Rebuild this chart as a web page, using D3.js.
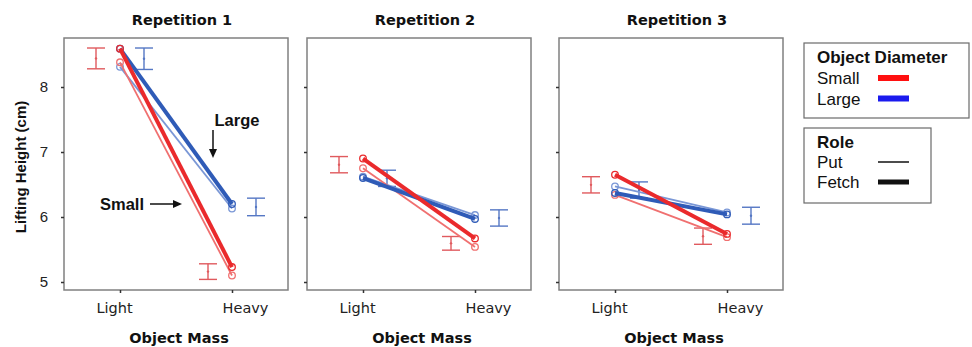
<!DOCTYPE html>
<html>
<head>
<meta charset="utf-8">
<script src="https://cdnjs.cloudflare.com/ajax/libs/d3/7.8.5/d3.min.js"></script>
<style>
  html, body { margin: 0; padding: 0; background: #fff; }
  svg { display: block; }
</style>
</head>
<body>
<svg id="chart" width="972" height="347"></svg>
<script>
// ---------------- DATA ----------------
const panels = ["Repetition 1", "Repetition 2", "Repetition 3"];
const masses = ["Light", "Heavy"];
const yTicks = [5, 6, 7, 8];
const sizes = ["Small", "Large"];
const roles = ["Put", "Fetch"];

// Line values [Light, Heavy] per repetition
const smallFetch = [[8.59, 5.23], [6.90, 5.67], [6.65, 5.74]];
const smallPut   = [[8.38, 5.10], [6.75, 5.54], [6.34, 5.69]];
const largeFetch = [[8.59, 6.20], [6.60, 5.97], [6.37, 6.04]];
const largePut   = [[8.31, 6.13], [6.62, 6.03], [6.47, 6.07]];

// Error bars [low, high] per repetition, for Light and Heavy
const smallLightCI = [[8.28, 8.60], [6.68, 6.93], [6.37, 6.62]];
const largeLightCI = [[8.27, 8.60], [6.47, 6.72], [6.29, 6.54]];
const smallHeavyCI = [[5.04, 5.28], [5.49, 5.70], [5.58, 5.83]];
const largeHeavyCI = [[6.02, 6.29], [5.86, 6.11], [5.89, 6.15]];

// ---------------- STYLE ----------------
const W = 972, H = 347;
const panelX = [64, 307, 559];
const panelW = 224;
const plotTop = 38, plotBottom = 290;
const col = {
  Small: { thick: "#ea2a2c", thin: "#f07070", ci: "#e05a5e", legend: "#ff1010" },
  Large: { thick: "#2f5bb7", thin: "#7a97d6", ci: "#5577c4", legend: "#1a1aee" }
};
const series = [
  { size: "Large", role: "Put",   vals: largePut },
  { size: "Small", role: "Put",   vals: smallPut },
  { size: "Large", role: "Fetch", vals: largeFetch },
  { size: "Small", role: "Fetch", vals: smallFetch }
];
const ciSets = [
  { size: "Small", mass: "Light", vals: smallLightCI, off: -24 },
  { size: "Large", mass: "Light", vals: largeLightCI, off: 24 },
  { size: "Small", mass: "Heavy", vals: smallHeavyCI, off: -24 },
  { size: "Large", mass: "Heavy", vals: largeHeavyCI, off: 24 }
];

const svg = d3.select("#chart");
svg.append("rect").attr("width", W).attr("height", H).attr("fill", "#fff");

const y = d3.scaleLinear().domain([4.877, 8.754]).range([plotBottom, plotTop]);
const x = d3.scalePoint().domain(masses).range([0, panelW]).padding(0.5);

panels.forEach((title, p) => {
  const g = svg.append("g").attr("transform", `translate(${panelX[p]},0)`);

  // frame
  g.append("rect").attr("x", 0).attr("y", plotTop).attr("width", panelW).attr("height", plotBottom - plotTop)
    .attr("fill", "#fff").attr("stroke", "#808080").attr("stroke-width", 1.5);

  // y axis ticks
  const yAxis = d3.axisLeft(y).tickValues(yTicks).tickSize(3).tickPadding(13)
    .tickFormat(p === 0 ? d3.format("d") : () => "");
  const ya = g.append("g").call(yAxis);
  ya.select(".domain").remove();
  ya.selectAll(".tick line").attr("stroke", "#333").attr("stroke-width", 1.5);
  ya.selectAll("text").attr("font-family", "Liberation Sans, Arial, sans-serif")
    .attr("font-size", 15).attr("fill", "#222");

  // x axis ticks
  const xa = g.append("g").attr("transform", `translate(0,${plotBottom})`)
    .call(d3.axisBottom(x).tickSize(3).tickPadding(10));
  xa.select(".domain").remove();
  xa.selectAll(".tick line").attr("stroke", "#333").attr("stroke-width", 1.5);
  xa.selectAll("text").attr("font-family", "DejaVu Sans, sans-serif")
    .attr("font-size", 14.5).attr("fill", "#222")
    .attr("dx", d => d === "Light" ? -6 : 13);

  // title
  g.append("text").attr("x", panelW / 2 + 6).attr("y", 25).attr("text-anchor", "middle")
    .attr("font-family", "DejaVu Sans, sans-serif").attr("font-weight", "bold")
    .attr("font-size", 14.5).attr("fill", "#111").text(title);

  // x axis title
  g.append("text").attr("x", panelW / 2 + 3).attr("y", 343).attr("text-anchor", "middle")
    .attr("font-family", "DejaVu Sans, sans-serif").attr("font-weight", "bold")
    .attr("font-size", 14.5).attr("fill", "#111").text("Object Mass");

  // error bars
  ciSets.forEach(c => {
    const [lo, hi] = c.vals[p];
    const cx = x(c.mass) + c.off;
    const eg = g.append("g").attr("stroke", col[c.size].ci).attr("stroke-width", 1.4).attr("fill", "none");
    eg.append("line").attr("x1", cx).attr("x2", cx).attr("y1", y(lo)).attr("y2", y(hi));
    eg.append("line").attr("x1", cx - 9).attr("x2", cx + 9).attr("y1", y(lo)).attr("y2", y(lo));
    eg.append("line").attr("x1", cx - 9).attr("x2", cx + 9).attr("y1", y(hi)).attr("y2", y(hi));
    g.append("circle").attr("cx", cx).attr("cy", y((lo + hi) / 2)).attr("r", 1.2)
      .attr("fill", col[c.size].ci);
  });

  // lines
  const line = d3.line().x((d, i) => x(masses[i])).y(d => y(d));
  series.forEach(s => {
    const thick = s.role === "Fetch";
    const c = thick ? col[s.size].thick : col[s.size].thin;
    g.append("path").datum(s.vals[p]).attr("d", line).attr("fill", "none")
      .attr("stroke", c).attr("stroke-width", thick ? 4 : 1.8);
    g.selectAll(null).data(s.vals[p]).enter().append("circle")
      .attr("cx", (d, i) => x(masses[i])).attr("cy", d => y(d)).attr("r", 3.3)
      .attr("fill", "none").attr("stroke", c).attr("stroke-width", 1.3);
  });

  // annotations on first panel
  if (p === 0) {
    const ann = g.append("g").attr("font-family", "Liberation Sans, Arial, sans-serif")
      .attr("font-weight", "bold").attr("font-size", 16.5).attr("fill", "#111");
    ann.append("text").attr("x", 237 - panelX[0]).attr("y", 126).attr("text-anchor", "middle").text("Large");
    ann.append("text").attr("x", 122 - panelX[0]).attr("y", 210).attr("text-anchor", "middle").text("Small");
    const ax = 213 - panelX[0];
    g.append("line").attr("x1", ax).attr("x2", ax).attr("y1", 130).attr("y2", 150)
      .attr("stroke", "#111").attr("stroke-width", 1.5);
    g.append("path").attr("d", `M${ax - 4},149 L${ax + 4},149 L${ax},158 Z`).attr("fill", "#111");
    g.append("line").attr("x1", 150 - panelX[0]).attr("x2", 174 - panelX[0]).attr("y1", 204).attr("y2", 204)
      .attr("stroke", "#111").attr("stroke-width", 1.5);
    g.append("path").attr("d", `M${173 - panelX[0]},200 L${173 - panelX[0]},208 L${182 - panelX[0]},204 Z`).attr("fill", "#111");
  }
});

// y axis label
svg.append("text").attr("transform", "translate(26,167) rotate(-90)").attr("text-anchor", "middle")
  .attr("font-family", "Liberation Sans, Arial, sans-serif").attr("font-weight", "bold")
  .attr("font-size", 15).attr("fill", "#111").text("Lifting Height (cm)");

// ---------------- LEGENDS ----------------
const lf = "Liberation Sans, Arial, sans-serif";
const leg1 = svg.append("g");
leg1.append("rect").attr("x", 804).attr("y", 43).attr("width", 165).attr("height", 75)
  .attr("fill", "#fff").attr("stroke", "#6a6a6a").attr("stroke-width", 1.2);
leg1.append("text").attr("x", 817).attr("y", 63).attr("font-family", lf).attr("font-weight", "bold")
  .attr("font-size", 17).attr("fill", "#111").text("Object Diameter");
sizes.forEach((s, i) => {
  leg1.append("text").attr("x", 817).attr("y", 84 + i * 21).attr("font-family", lf)
    .attr("font-size", 17).attr("fill", "#111").text(s);
  leg1.append("line").attr("x1", 878).attr("x2", 909).attr("y1", 78 + i * 20.5).attr("y2", 78 + i * 20.5)
    .attr("stroke", col[s].legend).attr("stroke-width", 6);
});

const leg2 = svg.append("g");
leg2.append("rect").attr("x", 804).attr("y", 128).attr("width", 127).attr("height", 75)
  .attr("fill", "#fff").attr("stroke", "#6a6a6a").attr("stroke-width", 1.2);
leg2.append("text").attr("x", 817).attr("y", 148).attr("font-family", lf).attr("font-weight", "bold")
  .attr("font-size", 17).attr("fill", "#111").text("Role");
roles.forEach((r, i) => {
  leg2.append("text").attr("x", 817).attr("y", 168 + i * 20).attr("font-family", lf)
    .attr("font-size", 17).attr("fill", "#111").text(r);
  leg2.append("line").attr("x1", 878).attr("x2", 909).attr("y1", 162 + i * 20).attr("y2", 162 + i * 20)
    .attr("stroke", "#111").attr("stroke-width", r === "Fetch" ? 5 : 1.5);
});
</script>
</body>
</html>
